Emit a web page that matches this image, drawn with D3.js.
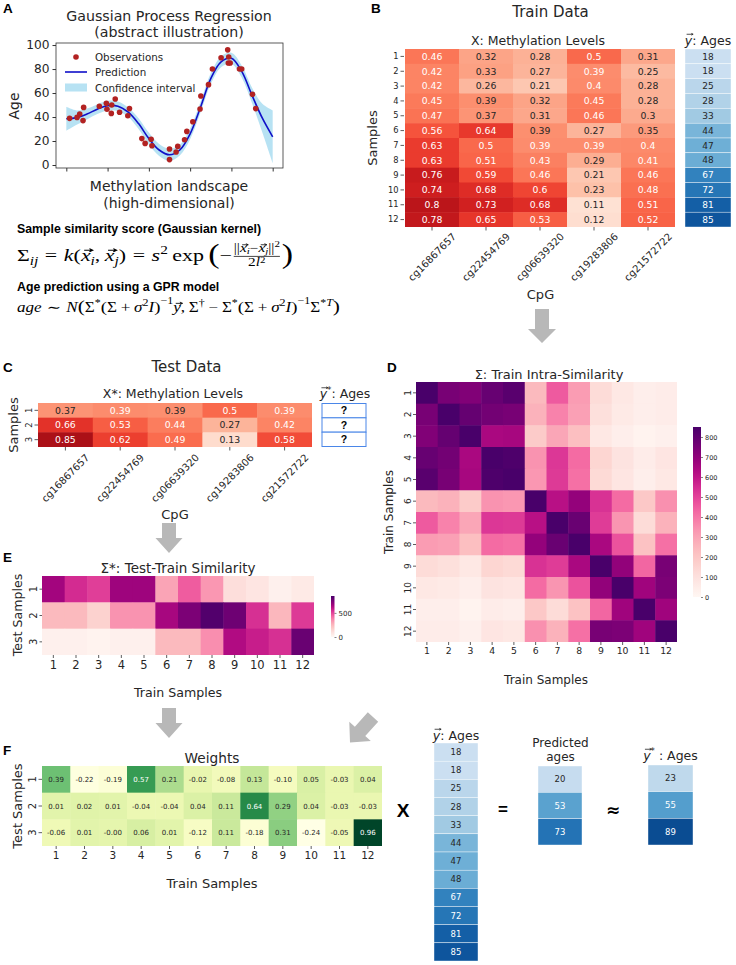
<!DOCTYPE html>
<html><head><meta charset="utf-8">
<script src="https://cdn.jsdelivr.net/npm/d3@7"></script>
<style>body{margin:0;background:#fff}svg{display:block}</style>
</head><body><svg id="c" width="736" height="965"></svg>
<script>
// ---------------- DATA ----------------
const cpgs = ["cg16867657","cg22454769","cg06639320","cg19283806","cg21572722"];
const trainLabels = ["1","2","3","4","5","6","7","8","9","10","11","12"];
const testLabels = ["1","2","3"];
const trainX = [
  [0.46,0.32,0.28,0.5,0.31],
  [0.42,0.33,0.27,0.394,0.25],
  [0.42,0.26,0.21,0.4,0.28],
  [0.45,0.386,0.32,0.45,0.28],
  [0.47,0.37,0.31,0.46,0.3],
  [0.56,0.64,0.386,0.27,0.35],
  [0.63,0.5,0.394,0.394,0.4],
  [0.63,0.51,0.43,0.29,0.41],
  [0.76,0.59,0.46,0.21,0.46],
  [0.74,0.68,0.6,0.23,0.48],
  [0.8,0.73,0.68,0.11,0.51],
  [0.78,0.65,0.53,0.12,0.52]
];
const trainAges = [18,18,25,28,33,44,47,48,67,72,81,85];
const testX = [
  [0.37,0.394,0.386,0.5,0.394],
  [0.66,0.53,0.44,0.27,0.42],
  [0.85,0.62,0.49,0.13,0.58]
];
const sigmaTrain = [
  [850,750,730,785,815,240,455,320,120,70,40,50],
  [750,850,790,760,750,265,375,310,105,60,40,50],
  [730,790,850,645,650,185,295,225,70,40,20,30],
  [785,760,645,850,840,340,525,420,145,90,50,80],
  [815,750,650,840,850,330,520,410,130,80,40,70],
  [240,265,185,340,330,850,615,690,535,420,195,345],
  [455,375,295,525,520,615,850,780,515,335,120,265],
  [320,310,225,420,410,690,780,850,645,470,215,410],
  [120,105,70,145,130,535,515,645,850,695,430,750],
  [70,60,40,90,80,420,335,470,695,850,665,740],
  [40,40,20,50,40,195,120,215,430,665,850,665],
  [50,50,30,80,70,345,265,410,750,740,665,850]
];
const sigmaTest = [
  [660,550,510,670,670,300,450,330,110,80,30,60],
  [240,240,160,340,340,650,740,830,770,540,250,520],
  [30,30,20,30,30,240,240,350,630,580,540,780]
];
const weights = [
  [0.39,-0.22,-0.19,0.57,0.21,-0.02,-0.08,0.13,-0.10,0.05,-0.03,0.04],
  [0.01,0.02,0.01,-0.04,-0.04,0.04,0.11,0.64,0.29,0.04,-0.03,-0.03],
  [-0.06,0.01,-0.004,0.06,0.01,-0.12,0.11,-0.18,0.31,-0.24,-0.05,0.96]
];
const predictedAges = [20,53,73];
const testAges = [23,55,89];
const sigmaTicks = [0,100,200,300,400,500,600,700,800];
const sigmaTestTicks = [0,500];
const ageTicks = [0,20,40,60,80,100];
const landscapeTicks = [0,2,4,6,8,10];
const gprObsX = [0.16,0.52,0.65,0.84,0.81,1.6,1.94,1.97,2.2,2.18,2.37,2.58,3.06,2.98,3.66,3.82,4.11,4.15,5.0,5.0,5.32,5.4,5.73,5.84,6.13,6.52,6.48,6.89,7.08,7.5,7.82,7.87,7.85,7.94,8.39,8.5,9.02,9.18];
const gprObsAge = [38.9,39.7,42.5,48,37,49,51.5,46.5,50,43,55,44,47,41,22,18,21.5,16,13.3,4.5,10.8,15.5,21,28,36,57.5,46.7,67,80,89.4,96,90,85,85,80,80,59,47];
const gprGridX = [0,0.5,1,1.5,2,2.5,3,3.5,4,4.5,5,5.5,6,6.5,7,7.5,8,8.5,9,9.5,10];
const gprMean = [38.5,39.5,42.5,46.5,49.5,49,44,34.5,22,12.5,8.5,12.5,26,48,72,86,89,78,58,39,23.5];
const gprHalfWidth = [10,6,4.5,4,4,4,4,4.5,5,5,5,4.5,4.5,4.5,4.5,4.5,4.5,5,6.5,12,22];

// ---------------- HELPERS ----------------
const SANS = "DejaVu Sans";
const BOLD = "Liberation Sans, Arial, sans-serif";
const SERIF = "Liberation Serif, DejaVu Serif, serif";
const TXT = "#262626";
const svg = d3.select("#c");

function txt(g, x, y, s, o = {}) {
  const t = g.append("text").attr("x", x).attr("y", y).text(s)
    .attr("font-family", o.family || SANS).attr("font-size", o.size || 12)
    .attr("fill", o.fill || TXT).attr("text-anchor", o.anchor || "middle");
  if (o.weight) t.attr("font-weight", o.weight);
  if (o.rotate) t.attr("transform", `rotate(${o.rotate},${x},${y})`);
  if (o.dy) t.attr("dy", o.dy);
  return t;
}
function panelLabel(x, y, s) { txt(svg, x, y, s, {family: BOLD, weight: "bold", size: 13.5, anchor: "start", fill: "#000"}); }

function heatmap(g, mat, o) {
  const nr = mat.length, nc = mat[0].length;
  const xs = d3.scaleBand().domain(d3.range(nc)).range([o.x, o.x + o.w]);
  const ys = d3.scaleBand().domain(d3.range(nr)).range([o.y, o.y + o.h]);
  const cells = [];
  mat.forEach((row, i) => row.forEach((v, j) => cells.push({i, j, v})));
  const ov = o.stroke ? 0 : 0.5;
  g.selectAll(null).data(cells).enter().append("rect")
    .attr("x", d => xs(d.j)).attr("y", d => ys(d.i))
    .attr("width", d => xs.bandwidth() + (d.j < nc - 1 ? ov : 0))
    .attr("height", d => ys.bandwidth() + (d.i < nr - 1 ? ov : 0))
    .attr("fill", d => o.color(d.v))
    .attr("stroke", o.stroke || "none").attr("stroke-width", o.strokeWidth || 0);
  if (o.fmt) {
    g.selectAll(null).data(cells).enter().append("text")
      .attr("x", d => xs(d.j) + xs.bandwidth() / 2).attr("y", d => ys(d.i) + ys.bandwidth() / 2)
      .attr("dy", "0.36em").attr("text-anchor", "middle")
      .attr("font-family", SANS).attr("font-size", o.fontSize)
      .attr("fill", d => o.light(d.v) ? "#ffffff" : TXT)
      .text(d => o.fmt(d.v));
  }
  return {xs, ys};
}

function yTicks(g, labels, y0, y1, o) {
  const sc = d3.scaleBand().domain(labels).range([y0, y1]);
  const a = g.append("g").attr("transform", `translate(${o.x},0)`)
    .call(d3.axisLeft(sc).tickSize(o.tick || 3.5).tickPadding(o.pad || 2));
  a.select(".domain").remove();
  a.selectAll("line").attr("stroke", "#333").attr("stroke-width", 0.8);
  const t = a.selectAll("text").attr("font-family", SANS).attr("font-size", o.size).attr("fill", TXT);
  if (o.rotate) {
    t.attr("x", null).attr("dy", null).attr("text-anchor", "middle")
      .attr("transform", `translate(${-((o.tick || 3.5) + (o.pad || 2))},0) rotate(-90)`);
  }
}
function xTicks(g, labels, x0, x1, o) {
  const sc = d3.scaleBand().domain(labels).range([x0, x1]);
  const a = g.append("g").attr("transform", `translate(0,${o.y})`)
    .call(d3.axisBottom(sc).tickSize(o.tick || 3.5).tickPadding(o.pad || 2));
  a.select(".domain").remove();
  a.selectAll("line").attr("stroke", "#333").attr("stroke-width", 0.8);
  const t = a.selectAll("text").attr("font-family", SANS).attr("font-size", o.size).attr("fill", TXT);
  if (o.rot45) {
    t.attr("y", null).attr("dy", "0.35em").attr("text-anchor", "middle")
      .attr("transform", `translate(0,${o.rotOffset}) rotate(-45)`);
  }
}

function vecTitle(g, cx, y, fs, label, star, sep) {
  const t = g.append("text").attr("y", y).attr("font-family", SANS).attr("font-size", fs).attr("fill", TXT);
  t.append("tspan").attr("font-style", "italic").text("y");
  if (star) {
    t.append("tspan").attr("font-size", fs * 0.7).attr("dy", -0.42 * fs).text("*");
    t.append("tspan").attr("dy", 0.42 * fs).text(sep + label);
  } else {
    t.append("tspan").text(sep + label);
  }
  const total = t.node().getComputedTextLength();
  const x0 = cx - total / 2;
  t.attr("x", x0);
  const ay = y - 0.82 * fs, ax0 = x0 + 0.14 * fs, ax1 = x0 + 0.66 * fs, h = 0.07 * fs;
  g.append("path").attr("d", `M${ax0},${ay}H${ax1}M${ax1 - 2 * h},${ay - h}L${ax1},${ay}L${ax1 - 2 * h},${ay + h}`)
    .attr("stroke", TXT).attr("fill", "none").attr("stroke-width", 0.8);
}

function grayArrow(x1, y1, x2, y2, sw, hw, hl) {
  const dx = x2 - x1, dy = y2 - y1, L = Math.hypot(dx, dy), ux = dx / L, uy = dy / L, px = -uy, py = ux;
  const bx = x2 - ux * hl, by = y2 - uy * hl;
  const pts = [[x1 + px * sw / 2, y1 + py * sw / 2], [bx + px * sw / 2, by + py * sw / 2], [bx + px * hw / 2, by + py * hw / 2],
    [x2, y2], [bx - px * hw / 2, by - py * hw / 2], [bx - px * sw / 2, by - py * sw / 2], [x1 - px * sw / 2, y1 - py * sw / 2]];
  svg.append("polygon").attr("points", pts.map(p => p.join(",")).join(" ")).attr("fill", "#b8b8b8");
}

function colorbar(id, x, y, w, h, interp, domain, ticks, fs) {
  const defs = svg.append("defs");
  const grad = defs.append("linearGradient").attr("id", id).attr("x1", 0).attr("y1", 1).attr("x2", 0).attr("y2", 0);
  d3.range(0, 1.0001, 0.05).forEach(t => grad.append("stop").attr("offset", t).attr("stop-color", interp(t)));
  svg.append("rect").attr("x", x).attr("y", y).attr("width", w).attr("height", h).attr("fill", `url(#${id})`);
  const sc = d3.scaleLinear().domain(domain).range([y + h, y]);
  const a = svg.append("g").attr("transform", `translate(${x + w},0)`).call(d3.axisRight(sc).tickValues(ticks).tickSize(2).tickPadding(2));
  a.select(".domain").remove();
  a.selectAll("line").attr("stroke", "#333").attr("stroke-width", 0.6);
  a.selectAll("text").attr("font-family", SANS).attr("font-size", fs).attr("fill", TXT);
}

// Formula builder
function makeFormula(fs) {
  const g = svg.append("g");
  const F = {g, cx: 0, target: g};
  F.put = (s, o = {}) => {
    const size = (o.size || 1) * fs;
    const t = F.target.append("text").attr("x", F.cx).attr("y", (o.dy || 0) * fs)
      .attr("font-family", SERIF).attr("font-size", size).attr("fill", "#000")
      .attr("font-style", o.it ? "italic" : "normal").text(s);
    const w = t.node().getComputedTextLength();
    F.cx += w;
    return {w, x: F.cx - w};
  };
  F.sp = k => { F.cx += k * fs; };
  F.vec = (letter, o = {}) => {
    const size = o.size || 1;
    const r = F.put(letter, {it: true, size, dy: o.dy});
    const y = (o.dy || 0) * fs - 0.6 * size * fs;
    const x0 = r.x + 0.15 * size * fs, x1 = r.x + r.w + 0.1 * size * fs, h = 0.09 * size * fs;
    F.target.append("path").attr("d", `M${x0},${y}H${x1}M${x1 - 1.7 * h},${y - h}L${x1},${y}L${x1 - 1.7 * h},${y + h}`)
      .attr("stroke", "#000").attr("fill", "none").attr("stroke-width", 0.055 * size * fs);
  };
  F.fit = (x0, top, W, H) => {
    const bb = g.node().getBBox();
    const sx = W / bb.width, sy = H / bb.height;
    g.attr("transform", `translate(${x0 - bb.x * sx},${top - bb.y * sy}) scale(${sx},${sy})`);
  };
  return F;
}

// ---------------- PANEL A ----------------
panelLabel(3, 13, "A");
txt(svg, 169, 21, "Gaussian Process Regression", {size: 14.2});
txt(svg, 169, 37, "(abstract illustration)", {size: 14.2});
const ax = d3.scaleLinear().domain([-0.5, 10.5]).range([56, 283]);
const ay = d3.scaleLinear().domain([-2.5, 101.7]).range([168, 43]);
const gA = svg.append("g");
const area = d3.area().x((d, i) => ax(gprGridX[i])).y0((d, i) => ay(gprMean[i] - gprHalfWidth[i])).y1((d, i) => ay(gprMean[i] + gprHalfWidth[i])).curve(d3.curveCatmullRom);
gA.append("path").datum(gprMean).attr("d", area).attr("fill", "#87ceeb").attr("opacity", 0.6);
const line = d3.line().x((d, i) => ax(gprGridX[i])).y(d => ay(d)).curve(d3.curveCatmullRom);
gA.append("path").datum(gprMean).attr("d", line).attr("fill", "none").attr("stroke", "#1010c8").attr("stroke-width", 1.6);
gA.selectAll(null).data(gprObsX).enter().append("circle")
  .attr("cx", d => ax(d)).attr("cy", (d, i) => ay(gprObsAge[i])).attr("r", 2.8).attr("fill", "#b22222");
gA.append("rect").attr("x", 56).attr("y", 43).attr("width", 227).attr("height", 125).attr("fill", "none").attr("stroke", "#333").attr("stroke-width", 0.8);
const yaxA = gA.append("g").attr("transform", "translate(56,0)").call(d3.axisLeft(ay).tickValues(ageTicks).tickSize(3.5).tickPadding(3));
yaxA.select(".domain").remove();
yaxA.selectAll("text").attr("font-family", SANS).attr("font-size", 12.2).attr("fill", TXT);
yaxA.selectAll("line").attr("stroke", "#333");
const xaxA = gA.append("g").attr("transform", "translate(0,168)").call(d3.axisBottom(ax).tickValues(landscapeTicks).tickSize(3.5).tickFormat(""));
xaxA.select(".domain").remove();
xaxA.selectAll("line").attr("stroke", "#333");
txt(svg, 169, 191, "Methylation landscape", {size: 14});
txt(svg, 169, 208, "(high-dimensional)", {size: 14});
txt(svg, 18.5, 106, "Age", {size: 14, rotate: -90});
// legend
gA.append("circle").attr("cx", 76).attr("cy", 57).attr("r", 2.8).attr("fill", "#b22222");
gA.append("line").attr("x1", 65).attr("x2", 87).attr("y1", 72).attr("y2", 72).attr("stroke", "#1010c8").attr("stroke-width", 1.6);
gA.append("rect").attr("x", 65).attr("y", 83.5).attr("width", 22).attr("height", 8).attr("fill", "#87ceeb").attr("opacity", 0.6);
txt(gA, 95, 60.8, "Observations", {size: 10.3, anchor: "start"});
txt(gA, 95, 76, "Prediction", {size: 10.3, anchor: "start"});
txt(gA, 95, 91.5, "Confidence interval", {size: 10.3, anchor: "start"});

// formulas
txt(svg, 17, 233, "Sample similarity score (Gaussian kernel)", {family: BOLD, weight: "bold", size: 12.3, anchor: "start", fill: "#000"});
{
  const F = makeFormula(16);
  F.put("Σ"); F.put("ij", {it: true, size: .7, dy: .25}); F.sp(.3); F.put("="); F.sp(.3);
  F.put("k", {it: true}); F.put("("); F.vec("x"); F.put("i", {it: true, size: .7, dy: .25}); F.put(","); F.sp(.2);
  F.vec("x"); F.put("j", {it: true, size: .7, dy: .25}); F.put(")");
  F.sp(.3); F.put("="); F.sp(.3); F.put("s", {it: true}); F.put("2", {size: .7, dy: -.4}); F.sp(.2); F.put("exp"); F.sp(.2);
  F.put("(", {size: 1.55, dy: .12}); F.put("−"); F.sp(.08);
  const start = F.cx;
  F.put("||", {size: .7, dy: -.5}); F.vec("x", {size: .7, dy: -.5}); F.put("i", {it: true, size: .5, dy: -.38});
  F.put("−", {size: .7, dy: -.5}); F.vec("x", {size: .7, dy: -.5}); F.put("j", {it: true, size: .5, dy: -.38});
  F.put("||", {size: .7, dy: -.5}); F.put("2", {size: .5, dy: -.78});
  const numW = F.cx - start;
  const dg = F.g.append("g");
  F.target = dg; F.cx = start;
  F.put("2", {size: .7, dy: .33}); F.put("l", {it: true, size: .7, dy: .33}); F.put("2", {size: .5, dy: .12});
  const denW = F.cx - start;
  dg.attr("transform", `translate(${(numW - denW) / 2},0)`);
  F.target = F.g; F.cx = start + numW;
  F.g.append("line").attr("x1", start).attr("x2", start + numW).attr("y1", -.24 * 16).attr("y2", -.24 * 16).attr("stroke", "#000").attr("stroke-width", .6);
  F.sp(.08);
  F.put(")", {size: 1.55, dy: .12});
  F.fit(17, 239, 276, 30);
}
txt(svg, 17, 291, "Age prediction using a GPR model", {family: BOLD, weight: "bold", size: 12.3, anchor: "start", fill: "#000"});
{
  const F = makeFormula(16);
  F.put("age", {it: true}); F.sp(.3); F.put("∼"); F.sp(.3); F.put("N", {it: true}); F.put("(", {size: 1.25, dy: .05});
  F.put("Σ"); F.put("*", {size: .7, dy: -.4}); F.put("(", {size: 1.1, dy: .02}); F.put("Σ"); F.sp(.22); F.put("+"); F.sp(.22);
  F.put("σ", {it: true}); F.put("2", {size: .7, dy: -.4}); F.put("I", {it: true}); F.put(")", {size: 1.1, dy: .02}); F.put("−1", {size: .7, dy: -.55});
  F.vec("y"); F.put(","); F.sp(.22);
  F.put("Σ"); F.put("†", {size: .7, dy: -.4}); F.sp(.22); F.put("−"); F.sp(.22);
  F.put("Σ"); F.put("*", {size: .7, dy: -.4}); F.put("(", {size: 1.1, dy: .02}); F.put("Σ"); F.sp(.22); F.put("+"); F.sp(.22);
  F.put("σ", {it: true}); F.put("2", {size: .7, dy: -.4}); F.put("I", {it: true}); F.put(")", {size: 1.1, dy: .02}); F.put("−1", {size: .7, dy: -.55});
  F.put("Σ"); F.put("*", {size: .7, dy: -.4}); F.put("T", {it: true, size: .7, dy: -.4});
  F.put(")", {size: 1.25, dy: .05});
  F.fit(17, 295.5, 323, 21);
}

// ---------------- PANEL B ----------------
panelLabel(371, 13, "B");
txt(svg, 550.5, 17, "Train Data", {size: 15});
txt(svg, 538, 44.5, "X:  Methylation Levels", {size: 12.5});
vecTitle(svg, 708, 44.5, 12.5, "Ages", false, ": ");
const redsC = d3.scaleSequential(d3.interpolateReds).domain([0, 1]);
const bluesC = d3.scaleSequential(d3.interpolateBlues).domain([-5, 100]);
const fmtG = d3.format(".2~g");
const gB = svg.append("g");
heatmap(gB, trainX, {x: 405, y: 49, w: 270, h: 178, color: redsC, fmt: fmtG, fontSize: 9.3, light: v => v >= 0.39});
heatmap(gB, trainAges.map(v => [v]), {x: 685, y: 49, w: 46, h: 178, color: bluesC, fmt: d => d, fontSize: 9, light: v => v >= 50, stroke: "#fff", strokeWidth: 0.4});
yTicks(gB, trainLabels, 49, 227, {x: 404, size: 8.3, tick: 3.5, pad: 2});
xTicks(gB, cpgs, 405, 675, {y: 227, size: 10, tick: 3.5, pad: 2, rot45: true, rotOffset: 30});
txt(svg, 540.5, 298.5, "CpG", {size: 13});
txt(svg, 377, 138, "Samples", {size: 13, rotate: -90});

// ---------------- PANEL C ----------------
panelLabel(3, 371.5, "C");
const clipC = svg.append("defs").append("clipPath").attr("id", "clipC");
clipC.append("rect").attr("x", 0).attr("y", 330).attr("width", 370).attr("height", 200);
const gC = svg.append("g").attr("clip-path", "url(#clipC)");
txt(gC, 186.5, 372, "Test Data", {size: 15});
txt(gC, 173, 398, "X*:  Methylation Levels", {size: 12.5});
vecTitle(gC, 345, 398, 12.5, "Ages", true, ": ");
heatmap(gC, testX, {x: 38, y: 403, w: 274, h: 44, color: redsC, fmt: fmtG, fontSize: 9.3, light: v => v >= 0.39});
heatmap(gC, testLabels.map(() => [0]), {x: 322, y: 403.5, w: 44, h: 43, color: () => "#fff", stroke: "#4a86e8", strokeWidth: 1});
testLabels.forEach((d, i) => txt(gC, 344, 403.5 + 43 / 3 * (i + 0.5), "?", {family: BOLD, weight: "bold", size: 10.5, dy: "0.36em", fill: "#000"}));
yTicks(gC, testLabels, 403, 447, {x: 38, size: 8.5, tick: 3.5, pad: 2.5, rotate: true});
xTicks(gC, cpgs, 38, 312, {y: 447, size: 10, tick: 3.5, pad: 2, rot45: true, rotOffset: 31});
txt(svg, 175, 518.5, "CpG", {size: 13});
txt(svg, 17.5, 425, "Samples", {size: 13, rotate: -90});

// ---------------- PANEL D ----------------
panelLabel(387, 372, "D");
const rdpuC = d3.scaleSequential(d3.interpolateRdPu).domain([0, 850]);
txt(svg, 549, 378.5, "Σ: Train Intra-Similarity", {size: 13});
const gD = svg.append("g");
heatmap(gD, sigmaTrain, {x: 416, y: 382, w: 261, h: 260, color: rdpuC});
yTicks(gD, trainLabels, 382, 642, {x: 416, size: 9, tick: 3, pad: 2.5, rotate: true});
xTicks(gD, trainLabels, 416, 677, {y: 642, size: 9.3, tick: 3, pad: 2.5});
txt(svg, 546, 683.5, "Train Samples", {size: 12});
txt(svg, 393, 512, "Train Samples", {size: 12, rotate: -90});
colorbar("cbD", 693, 427, 8, 170, d3.interpolateRdPu, [0, 850], sigmaTicks, 6.5);

// ---------------- PANEL E ----------------
panelLabel(3, 562, "E");
txt(svg, 178, 573, "Σ*: Test-Train Similarity", {size: 13.5});
const gE = svg.append("g");
heatmap(gE, sigmaTest, {x: 42, y: 576, w: 272, h: 79, color: rdpuC});
yTicks(gE, testLabels, 576, 655, {x: 42, size: 10, tick: 2.5, pad: 2.5, rotate: true});
xTicks(gE, trainLabels, 42, 314, {y: 655, size: 11.5, tick: 3, pad: 2.5});
txt(svg, 178, 697, "Train Samples", {size: 12.6});
txt(svg, 22, 615, "Test Samples", {size: 12.6, rotate: -90});
colorbar("cbE", 331, 596, 3.5, 41, d3.interpolateRdPu, [0, 850], sigmaTestTicks, 7);

// ---------------- PANEL F ----------------
panelLabel(3, 755, "F");
txt(svg, 212, 762.5, "Weights", {size: 13.7});
const ylgnC = d3.scaleSequential(d3.interpolateYlGn).domain([d3.min(weights.flat()), d3.max(weights.flat())]);
const gF = svg.append("g");
heatmap(gF, weights, {x: 42, y: 766, w: 340, h: 80, color: ylgnC, fmt: v => v.toFixed(2), fontSize: 7, light: v => v > 0.5});
yTicks(gF, testLabels, 766, 846, {x: 42, size: 10, tick: 3.5, pad: 3, rotate: true});
xTicks(gF, trainLabels, 42, 382, {y: 846, size: 10.5, tick: 3, pad: 3});
txt(svg, 212, 887.5, "Train Samples", {size: 13});
txt(svg, 22, 806, "Test Samples", {size: 13, rotate: -90});

// ---------------- RIGHT BOTTOM ----------------
txt(svg, 403, 817, "X", {family: BOLD, weight: "bold", size: 19, fill: "#000"});
txt(svg, 503, 815, "=", {family: BOLD, weight: "bold", size: 17, fill: "#000"});
txt(svg, 613, 816, "≈", {family: SANS, weight: "bold", size: 17, fill: "#000"});
vecTitle(svg, 456, 739.5, 12.5, "Ages", false, ": ");
heatmap(svg.append("g"), trainAges.map(v => [v]), {x: 434, y: 743, w: 44, h: 218, color: bluesC, fmt: d => d, fontSize: 8.5, light: v => v >= 50, stroke: "#fff", strokeWidth: 0.4});
txt(svg, 560.5, 747, "Predicted", {size: 12});
txt(svg, 560.5, 761, "ages", {size: 12});
heatmap(svg.append("g"), predictedAges.map(v => [v]), {x: 538, y: 766, w: 44, h: 79, color: bluesC, fmt: d => d, fontSize: 8.5, light: v => v >= 50, stroke: "#fff", strokeWidth: 0.4});
vecTitle(svg, 670.5, 759.5, 12.5, "Ages", true, " : ");
heatmap(svg.append("g"), testAges.map(v => [v]), {x: 648, y: 765, w: 45, h: 80, color: bluesC, fmt: d => d, fontSize: 8.5, light: v => v >= 50, stroke: "#fff", strokeWidth: 0.4});

// ---------------- ARROWS ----------------
grayArrow(542, 309, 542, 343, 14, 28, 14);
grayArrow(169, 523, 169, 553, 14, 27, 15);
grayArrow(169, 708, 169, 738, 14, 27, 15);
grayArrow(373, 717, 350, 742.5, 14, 29, 15);
</script></body></html>
